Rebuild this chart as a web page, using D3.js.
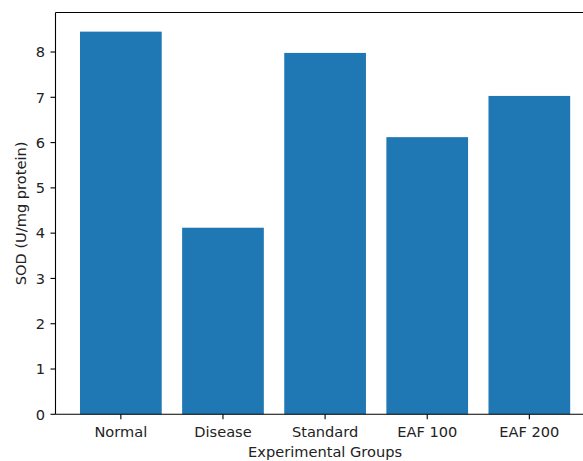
<!DOCTYPE html>
<html><head><meta charset="utf-8">
<script src="https://cdn.jsdelivr.net/npm/d3@7"></script>
<style>body{margin:0;background:#fff}svg{display:block}</style>
</head><body>
<script>
const categories = ["Normal","Disease","Standard","EAF 100","EAF 200"];
const values = [8.45, 4.12, 7.98, 6.12, 7.03];
const yTicks = [0,1,2,3,4,5,6,7,8];
const xTitle = "Experimental Groups";
const yTitle = "SOD (U/mg protein)";

const W = 583, H = 461;
const mLeft = 55.5, mRight = 594.7, mTop = 12.5, mBottom = 414.3;
const font = "DejaVu Sans, sans-serif";
const fs = 14.6;

const svg = d3.select("body").append("svg").attr("width", W).attr("height", H);

const x = d3.scaleBand().domain(categories).range([mLeft, mRight])
  .paddingInner(0.2).paddingOuter(0.24);
const yMax = d3.max(values) * 1.05;
const y = d3.scaleLinear().domain([0, yMax]).range([mBottom, mTop]);

svg.selectAll("rect.bar").data(values).enter().append("rect")
  .attr("class","bar")
  .attr("x", (d,i) => x(categories[i]))
  .attr("width", x.bandwidth())
  .attr("y", d => y(d))
  .attr("height", d => y(0) - y(d))
  .attr("fill", "#1f77b4");

// spines
svg.append("line").attr("x1", mLeft).attr("x2", mLeft).attr("y1", mTop).attr("y2", mBottom)
  .attr("stroke","#000").attr("stroke-width",1.1);
svg.append("line").attr("x1", mLeft).attr("x2", W).attr("y1", mBottom).attr("y2", mBottom)
  .attr("stroke","#000").attr("stroke-width",1.1);
svg.append("line").attr("x1", mLeft).attr("x2", W).attr("y1", mTop).attr("y2", mTop)
  .attr("stroke","#000").attr("stroke-width",1.1);

// y ticks
const yg = svg.append("g");
yTicks.forEach(t => {
  yg.append("line").attr("x1", mLeft - 5).attr("x2", mLeft).attr("y1", y(t)).attr("y2", y(t))
    .attr("stroke","#000").attr("stroke-width",1.1);
  yg.append("text").attr("x", mLeft - 10.5).attr("y", y(t)).attr("dy","0.36em")
    .attr("text-anchor","end").attr("font-family",font).attr("font-size",fs)
    .attr("fill","#222").text(t);
});

// x ticks
const xg = svg.append("g");
categories.forEach(c => {
  const cx = x(c) + x.bandwidth()/2;
  xg.append("line").attr("x1", cx).attr("x2", cx).attr("y1", mBottom).attr("y2", mBottom + 5)
    .attr("stroke","#000").attr("stroke-width",1.1);
  xg.append("text").attr("x", cx).attr("y", 437.3)
    .attr("text-anchor","middle").attr("font-family",font).attr("font-size",fs)
    .attr("fill","#222").text(c);
});

svg.append("text").attr("x", (mLeft + mRight)/2).attr("y", 456.5)
  .attr("text-anchor","middle").attr("font-family",font).attr("font-size",fs)
  .attr("fill","#222").text(xTitle);

svg.append("text").attr("transform", `translate(25.7,${(mTop+mBottom)/2}) rotate(-90)`)
  .attr("text-anchor","middle").attr("font-family",font).attr("font-size",fs)
  .attr("fill","#222").text(yTitle);
</script>
</body></html>
